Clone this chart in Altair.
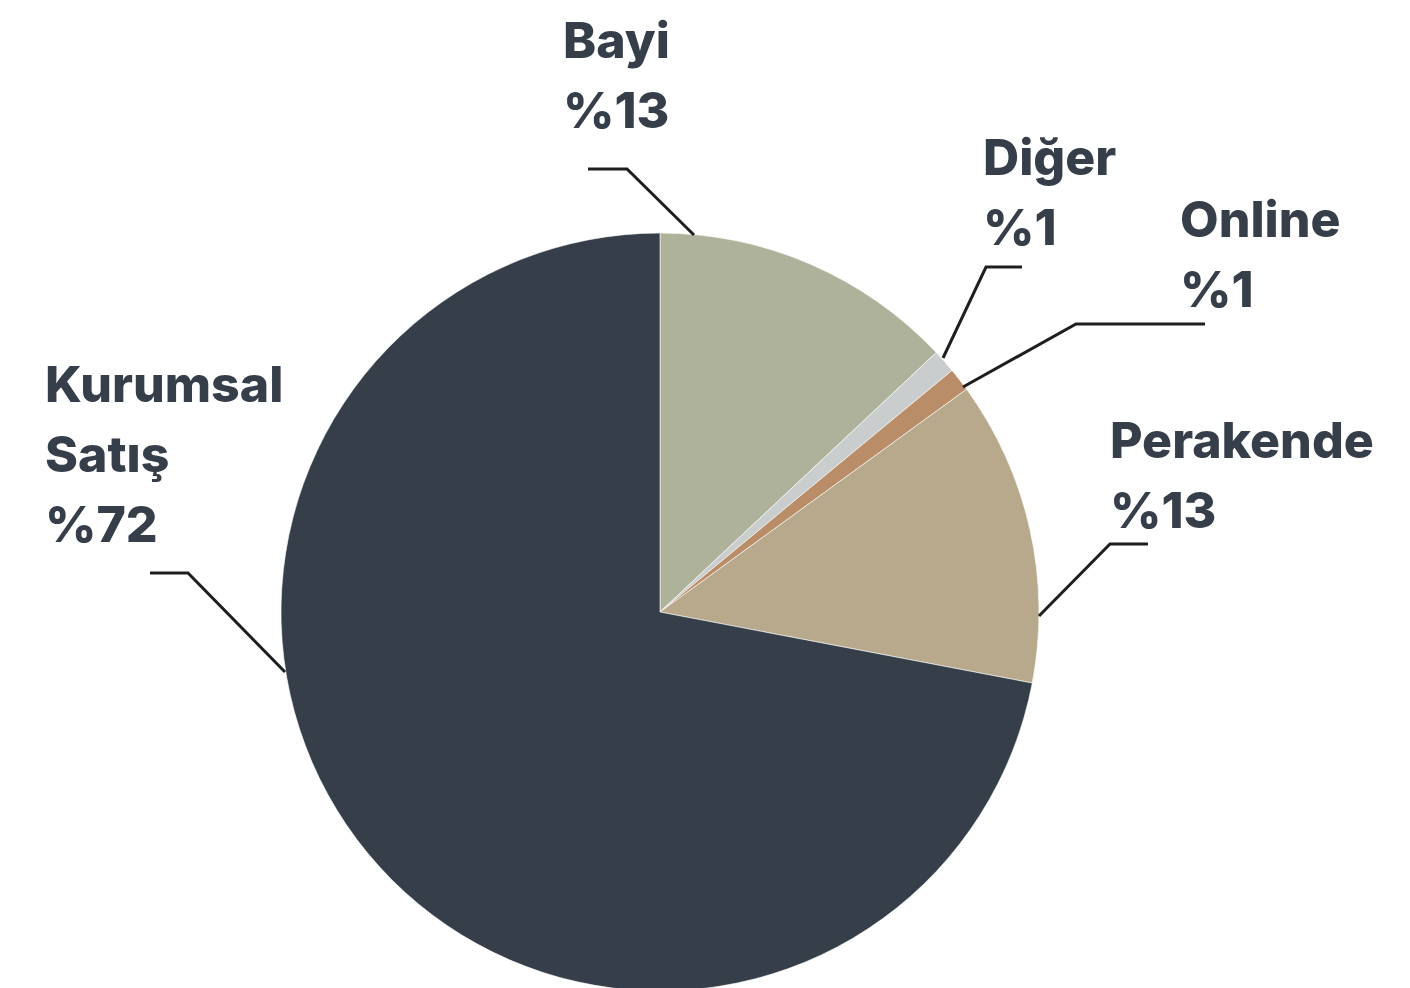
import altair as alt
import pandas as pd

# ---- data ----
categories = ["Bayi", "Diğer", "Online", "Perakende", "Kurumsal Satış"]
values = [13, 1, 1, 13, 72]
label_texts = ["Bayi\n%13", "Diğer\n%1", "Online\n%1", "Perakende\n%13", "Kurumsal\nSatış\n%72"]
colors = ["#aeb29a", "#c9cdcd", "#b88d67", "#b8a88c", "#353e49"]

# ---- layout (page-pixel coordinate space) ----
W, H = 1394, 980
CX, CY, R = 660, 612, 379
label_x = [563, 983, 1180, 1110, 45]
label_y = [58, 175, 237, 458, 402]
# leader polylines: start on rim -> elbow -> end
leaders = {
    "Bayi": [(694, 235), (627, 169), (588, 169)],
    "Diğer": [(943, 358), (986, 267), (1022, 267)],
    "Online": [(963, 387), (1076, 324), (1205, 324)],
    "Perakende": [(1039, 616), (1110, 544), (1148, 544)],
    "Kurumsal Satış": [(285, 672), (188, 573), (150, 573)],
}

xscale = alt.Scale(domain=[8, 8 + W], range=[0, W], nice=False, zero=False)
yscale = alt.Scale(domain=[8, 8 + H], range=[0, H], nice=False, zero=False)

pie_df = pd.DataFrame({
    "cat": categories,
    "value": values,
    "order": list(range(len(categories))),
    "cx": [CX] * len(categories),
    "cy": [CY] * len(categories),
})

rows = []
for cat, pts in leaders.items():
    for i, (px, py) in enumerate(pts):
        rows.append({"cat": cat, "i": i, "px": px, "py": py})
lead_df = pd.DataFrame(rows)

lab_df = pd.DataFrame({"cat": categories, "text": label_texts, "lx": label_x, "ly": label_y})

pie = alt.Chart(pie_df).mark_arc(radius=R, stroke="#ffffff", strokeWidth=0.6).encode(
    theta=alt.Theta("value:Q", stack=True),
    order=alt.Order("order:Q"),
    color=alt.Color("cat:N", scale=alt.Scale(domain=categories, range=colors), legend=None),
    x=alt.X("cx:Q", scale=xscale, axis=None),
    y=alt.Y("cy:Q", scale=yscale, axis=None),
)

lines = alt.Chart(lead_df).mark_line(color="#1e1e1e", strokeWidth=3, strokeJoin="miter").encode(
    x=alt.X("px:Q", scale=xscale, axis=None),
    y=alt.Y("py:Q", scale=yscale, axis=None),
    detail="cat:N",
    order="i:Q",
)

labels = alt.Chart(lab_df).mark_text(
    align="left", baseline="alphabetic", font="Inter", fontWeight=800,
    fontSize=50, lineBreak="\n", lineHeight=70, color="#353e49",
).encode(
    x=alt.X("lx:Q", scale=xscale, axis=None),
    y=alt.Y("ly:Q", scale=yscale, axis=None),
    text="text:N",
)

chart = alt.layer(pie, lines, labels).properties(
    width=W, height=H, padding=0, autosize=alt.AutoSizeParams(type="none"),
).configure_view(stroke=None)

chart.save("out.html", embed_options={"renderer": "svg", "actions": False})
